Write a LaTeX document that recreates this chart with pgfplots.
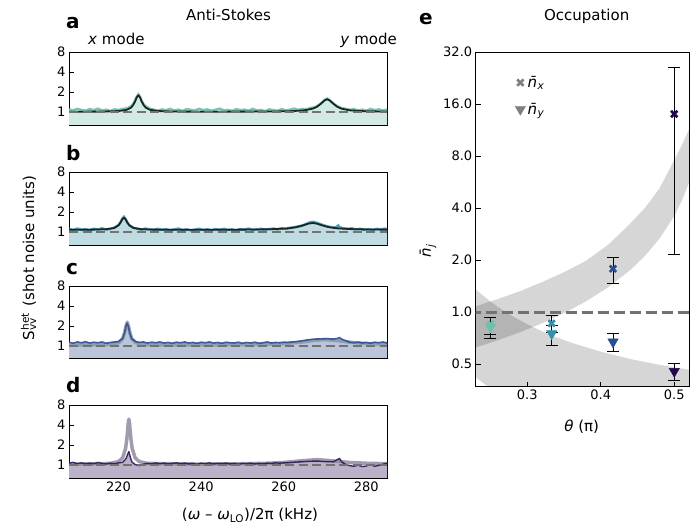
\documentclass[border=0pt]{standalone}
\usepackage{fontspec}
\setmainfont{DejaVu Sans}
\usepackage{pgfplots}
\usepackage{pgfplotstable}
\usepgfplotslibrary{fillbetween}
\pgfplotsset{compat=1.18}
\definecolor{lineA}{HTML}{5DB9A2}
\definecolor{fillA}{HTML}{D2EAE3}
\definecolor{lineB}{HTML}{2F8BA6}
\definecolor{fillB}{HTML}{C0DCE3}
\definecolor{lineC}{HTML}{2E4F92}
\definecolor{fillC}{HTML}{BAC5D9}
\definecolor{lineD}{HTML}{2A1656}
\definecolor{fillD}{HTML}{BBB2C9}
\definecolor{fitC}{HTML}{8A94AB}
\definecolor{fitD}{HTML}{918B9F}
\definecolor{fitAB}{HTML}{1A2626}
\definecolor{dashgray}{HTML}{727272}
\definecolor{pA}{HTML}{6DBFAE}
\definecolor{pB}{HTML}{3790A9}
\definecolor{pC}{HTML}{284F8C}
\definecolor{pD}{HTML}{1F0A4D}
\definecolor{leggray}{HTML}{7F7F7F}

\pgfplotstableread{
x y
208 1.10
209 1.06
210 1.12
211 1.08
212 1.05
213 1.11
214 1.07
215 1.13
216 1.06
217 1.09
218 1.04
219 1.10
220 1.08
221 1.12
222 1.14
223 1.22
223.5 1.32
224 1.50
224.4 1.72
224.8 1.85
225.2 1.70
225.6 1.48
226.1 1.30
226.6 1.22
227.6 1.12
228.5 1.09
229.5 1.05
230.5 1.10
231.5 1.07
232.5 1.12
233.5 1.06
234.5 1.09
235.5 1.04
236.5 1.11
237.5 1.08
238.5 1.06
239.5 1.12
240.5 1.07
241.5 1.10
242.5 1.05
243.5 1.09
244.5 1.13
245.5 1.06
246.5 1.08
247.5 1.04
248.5 1.11
249.5 1.07
250.5 1.09
251.5 1.05
252.5 1.12
253.5 1.06
254.5 1.08
255.5 1.03
256.5 1.10
257.5 1.07
258.5 1.05
259.5 1.11
260.5 1.06
261.5 1.09
262.5 1.13
263.5 1.08
264.5 1.12
265.5 1.10
266.5 1.16
267.5 1.18
268.5 1.28
269.3 1.40
270 1.55
270.6 1.60
271.3 1.47
272 1.35
273 1.22
274 1.15
275 1.12
276 1.08
277 1.11
278 1.06
279 1.09
280 1.05
281 1.12
282 1.07
283 1.10
284 1.06
285 1.09
}\dataA
\pgfplotstableread{
x y
208 1.012
216 1.018
220 1.037
222 1.083
223 1.166
223.5 1.263
224 1.446
224.4 1.661
224.8 1.790
225.2 1.661
225.6 1.446
226.1 1.263
226.6 1.166
227.6 1.083
229.6 1.037
233.6 1.018
240 1.014
250 1.016
258 1.022
262 1.034
265 1.063
267 1.125
268 1.198
269 1.335
269.8 1.488
270.5 1.560
271.2 1.488
272 1.335
273 1.198
274 1.125
276 1.063
279 1.034
283 1.022
285 1.019
}\fitA
\pgfplotstableread{
x y
208 1.12
209 1.08
210 1.13
211 1.09
212 1.11
213 1.07
214 1.12
215 1.10
216 1.14
217 1.09
218 1.12
219 1.17
220 1.28
220.5 1.42
220.9 1.60
221.3 1.70
221.7 1.58
222.1 1.40
222.6 1.27
223.6 1.16
224.6 1.12
225.5 1.09
226.5 1.13
227.5 1.10
228.5 1.08
229.5 1.12
230.5 1.09
231.5 1.11
232.5 1.07
233.5 1.10
234.5 1.13
235.5 1.08
236.5 1.10
237.5 1.06
238.5 1.09
239.5 1.12
240.5 1.08
241.5 1.10
242.5 1.07
243.5 1.11
244.5 1.09
245.5 1.12
246.5 1.08
247.5 1.10
248.5 1.06
249.5 1.11
250.5 1.09
251.5 1.13
252.5 1.08
253.5 1.10
254.5 1.12
255.5 1.09
256.5 1.11
257.5 1.13
258.5 1.10
259.5 1.14
260.5 1.12
261.5 1.16
262.5 1.18
263.5 1.22
264.5 1.26
265.5 1.33
266.3 1.40
267 1.43
267.8 1.39
268.7 1.33
269.5 1.28
270.5 1.22
271.5 1.19
272.5 1.17
273.2 1.26
273.6 1.18
274.5 1.14
275.5 1.12
276.5 1.14
277.5 1.10
278.5 1.12
279.5 1.09
280.5 1.11
281.5 1.08
282.5 1.12
283.5 1.10
284.5 1.13
285 1.09
}\dataB
\pgfplotstableread{
x y
208 1.083
214 1.089
217 1.104
219 1.156
220 1.265
220.5 1.399
220.9 1.556
221.3 1.650
221.7 1.556
222.1 1.399
222.6 1.265
223.6 1.156
225.6 1.104
228.6 1.089
235 1.083
245 1.085
252 1.091
257 1.104
261 1.138
263 1.184
264.5 1.251
266 1.341
267 1.370
268 1.341
269.5 1.251
271 1.184
273 1.138
277 1.104
282 1.091
285 1.089
}\fitB
\pgfplotstableread{
x y
208 1.14
209 1.10
210 1.15
211 1.12
212 1.16
213 1.11
214 1.14
215 1.12
216 1.15
217 1.10
218 1.13
219 1.15
220 1.17
221 1.30
221.5 1.62
221.8 1.98
222.1 2.20
222.4 1.95
222.7 1.58
223.2 1.28
224.2 1.16
225 1.13
226 1.15
227 1.11
228 1.14
229 1.12
230 1.15
231 1.11
232 1.13
233 1.10
234 1.14
235 1.12
236 1.15
237 1.11
238 1.13
239 1.10
240 1.14
241 1.12
242 1.15
243 1.11
244 1.13
245 1.10
246 1.14
247 1.12
248 1.11
249 1.14
250 1.10
251 1.13
252 1.11
253 1.14
254 1.10
255 1.12
256 1.15
257 1.11
258 1.13
259 1.12
260 1.14
261 1.13
262 1.15
263 1.16
264.5 1.20
266 1.24
267.5 1.27
269 1.28
270.5 1.29
272 1.27
273 1.30
273.5 1.34
274 1.27
275 1.20
276 1.14
277 1.12
278 1.14
279 1.11
280 1.13
281 1.10
282 1.14
283 1.12
284 1.15
285 1.11
}\dataC
\pgfplotstableread{
x y
208 1.030
218 1.055
220 1.120
221 1.290
221.5 1.620
221.8 2.000
222.1 2.280
222.4 2.000
222.7 1.620
223.2 1.290
224.2 1.120
226.2 1.055
232 1.035
250 1.048
256 1.064
260 1.088
264 1.140
267 1.206
270 1.250
273 1.206
276 1.140
280 1.088
285 1.060
}\fitC
\pgfplotstableread{
x y
208 1.07
209 1.10
210 1.05
211 1.08
212 1.04
213 1.07
214 1.05
215 1.09
216 1.06
217 1.04
218 1.07
219 1.05
220 1.08
221 1.10
221.8 1.25
222.2 1.45
222.5 1.60
222.8 1.35
223.2 1.12
224 1.02
225 0.98
226 1.03
227 1.06
228 1.04
229 1.08
230 1.05
231 1.07
232 1.04
233 1.06
234 1.08
235 1.05
236 1.07
237 1.04
238 1.06
239 1.03
240 1.07
241 1.05
242 1.08
243 1.04
244 1.06
245 1.05
246 1.07
247 1.04
248 1.06
249 1.03
250 1.06
251 1.05
252 1.07
253 1.04
254 1.06
255 1.05
256 1.07
257 1.06
258 1.08
259 1.07
260 1.08
262 1.10
264 1.12
266 1.14
268 1.15
270 1.13
272 1.12
273.5 1.26
274 1.12
275 1.02
276 0.98
277 0.96
278 1.00
279 0.95
280 0.97
281 1.02
282 0.96
283 0.99
284 1.03
285 1.06
}\dataD
\pgfplotstableread{
x y
208 1.030
218 1.060
220 1.130
221 1.290
221.7 1.780
222.0 2.450
222.2 3.350
222.35 4.300
222.5 4.900
222.65 4.300
222.8 3.350
223.0 2.450
223.3 1.780
224.0 1.290
225.0 1.130
227 1.060
240 1.035
250 1.048
256 1.066
260 1.095
264 1.155
268 1.210
272 1.155
276 1.095
280 1.066
285 1.050
}\fitD

\begin{document}
\begin{tikzpicture}[x=1pt,y=1pt]

% ===== a =====
\begin{axis}[scale only axis, width=318pt, height=73pt, anchor=south west, at={(69pt,401pt)},
    xmin=208, xmax=285, ymode=log, ymin=0.64, ymax=8,
    ytick={1,2,4,8}, yticklabels={1,2,4,8},
    xtick={220,240,260,280}, xticklabels={},
    tick align=inside, tick pos=left, major tick length=5pt,
    tick style={black, line width=0.7pt},
    axis line style={black, line width=0.8pt},
    ticklabel style={font=\fontsize{13}{15}\selectfont},
    minor tick num=0]
\addplot[name path=A, line width=2.4pt, opacity=0.8, color=lineA] table {\dataA};
\path[name path=Abot] (axis cs:208,0.6) -- (axis cs:285,0.6);
\addplot[fillA] fill between[of=A and Abot];
\addplot[fitAB, line width=1.8pt, line join=round] table {\fitA};
\addplot[dashgray, line width=2.6pt, dash pattern=on 9pt off 4.5pt] coordinates {(208,1) (285,1)};
\end{axis}

% ===== b =====
\begin{axis}[scale only axis, width=318pt, height=73pt, anchor=south west, at={(69pt,281pt)},
    xmin=208, xmax=285, ymode=log, ymin=0.64, ymax=8,
    ytick={1,2,4,8}, yticklabels={1,2,4,8},
    xtick={220,240,260,280}, xticklabels={},
    tick align=inside, tick pos=left, major tick length=5pt,
    tick style={black, line width=0.7pt},
    axis line style={black, line width=0.8pt},
    ticklabel style={font=\fontsize{13}{15}\selectfont},
    minor tick num=0]
\addplot[name path=B, line width=2.4pt, opacity=0.8, color=lineB] table {\dataB};
\path[name path=Bbot] (axis cs:208,0.6) -- (axis cs:285,0.6);
\addplot[fillB] fill between[of=B and Bbot];
\addplot[fitAB, line width=1.8pt, line join=round] table {\fitB};
\addplot[dashgray, line width=2.6pt, dash pattern=on 9pt off 4.5pt] coordinates {(208,1) (285,1)};
\end{axis}

% ===== c =====
\begin{axis}[scale only axis, width=318pt, height=72pt, anchor=south west, at={(69pt,168pt)},
    xmin=208, xmax=285, ymode=log, ymin=0.66, ymax=8,
    ytick={1,2,4,8}, yticklabels={1,2,4,8},
    xtick={220,240,260,280}, xticklabels={},
    tick align=inside, tick pos=left, major tick length=5pt,
    tick style={black, line width=0.7pt},
    axis line style={black, line width=0.8pt},
    ticklabel style={font=\fontsize{13}{15}\selectfont},
    minor tick num=0]
\addplot[name path=C, draw=none] table {\dataC};
\path[name path=Cbot] (axis cs:208,0.6) -- (axis cs:285,0.6);
\addplot[fillC] fill between[of=C and Cbot];
\addplot[fitC, line width=3.5pt, opacity=0.85, line join=round] table {\fitC};
\addplot[line width=1.6pt, color=lineC, opacity=0.9, line join=round] table {\dataC};
\addplot[dashgray, line width=2.6pt, dash pattern=on 9pt off 4.5pt] coordinates {(208,1) (285,1)};
\end{axis}

% ===== d =====
\begin{axis}[scale only axis, width=318pt, height=73pt, anchor=south west, at={(69pt,48pt)},
    xmin=208, xmax=285, ymode=log, ymin=0.64, ymax=8,
    ytick={1,2,4,8}, yticklabels={1,2,4,8},
    xtick={220,240,260,280}, xticklabels={220,240,260,280},
    tick align=inside, tick pos=left, major tick length=5pt,
    tick style={black, line width=0.7pt},
    axis line style={black, line width=0.8pt},
    ticklabel style={font=\fontsize{13}{15}\selectfont},
    minor tick num=0]
\addplot[name path=D, draw=none] table {\dataD};
\path[name path=Dbot] (axis cs:208,0.6) -- (axis cs:285,0.6);
\addplot[fillD] fill between[of=D and Dbot];
\addplot[fitD, line width=3.5pt, opacity=0.85, line join=round] table {\fitD};
\addplot[line width=1.4pt, color=lineD, opacity=0.9, line join=round] table {\dataD};
\addplot[dashgray, line width=2.6pt, dash pattern=on 9pt off 4.5pt] coordinates {(208,1) (285,1)};
\end{axis}

% ===== e =====
\begin{axis}[
  scale only axis, width=213.3pt, height=334.7pt, anchor=south west,
  at={(475.7pt,139.3pt)},
  xmin=0.23, xmax=0.52, ymode=log, ymin=0.37, ymax=32,
  ytick={0.5,1,2,4,8,16,32}, yticklabels={0.5,1.0,2.0,4.0,8.0,16.0,32.0},
  xtick={0.3,0.4,0.5}, xticklabels={0.3,0.4,0.5},
  tick align=inside, tick pos=left, major tick length=5pt,
  tick style={black, line width=0.7pt},
  axis line style={black, line width=0.8pt},
  ticklabel style={font=\fontsize{13}{15}\selectfont},
  minor tick num=0,
  legend style={draw=none, fill=none, at={(0.17,0.94)}, anchor=north west,
    font=\fontsize{15}{17}\selectfont, row sep=10pt},
  legend cell align=left,
]
\addlegendimage{only marks, mark=x, mark size=4.5pt, line width=2.6pt, leggray}
\addlegendentry{\textit{n̄}\textsubscript{\textit{x}}}
\addlegendimage{only marks, mark=triangle*, mark size=6pt, leggray, mark options={rotate=180}}
\addlegendentry{\textit{n̄}\textsubscript{\textit{y}}}
% bands
\addplot[draw=none, fill=black, fill opacity=0.16, forget plot] coordinates {
 (0.23,1.35) (0.25,1.15) (0.27,1.0) (0.30,0.85) (0.33,0.74) (0.36,0.665) (0.40,0.59) (0.44,0.535) (0.48,0.495) (0.52,0.464)
 (0.52,0.145) (0.48,0.155) (0.44,0.167) (0.40,0.184) (0.36,0.208) (0.33,0.231) (0.30,0.266) (0.27,0.31) (0.25,0.36) (0.23,0.42)};
\addplot[draw=none, fill=black, fill opacity=0.16, forget plot] coordinates {
 (0.23,1.08) (0.26,1.19) (0.29,1.32) (0.32,1.49) (0.35,1.70) (0.38,1.98) (0.41,2.45) (0.44,3.25) (0.46,4.0) (0.48,5.2) (0.50,7.6) (0.51,9.2) (0.52,11.4)
 (0.52,5.59) (0.51,4.386) (0.50,3.608) (0.48,2.664) (0.46,2.111) (0.44,1.748) (0.41,1.390) (0.38,1.154) (0.35,0.986) (0.32,0.861) (0.29,0.764) (0.26,0.687) (0.23,0.624)};
\addplot[dashgray, line width=3pt, dash pattern=on 11pt off 5pt, forget plot] coordinates {(0.2,1) (0.55,1)};
% error bars
\addplot[draw=none, mark=none, forget plot, error bars/.cd, y dir=both, y explicit,
  error bar style={black, line width=1pt}, error mark options={black, rotate=90, mark size=6pt, line width=1pt}]
  coordinates {
  (0.25,0.85) += (0,0.083) -= (0,0.11)
  (0.3333,0.86) += (0,0.095) -= (0,0.10)
  (0.4167,1.78) += (0,0.29) -= (0,0.32)
  (0.5,14.0) += (0,12.0) -= (0,11.86)
  (0.25,0.82) += (0,0.11) -= (0,0.12)
  (0.3333,0.75) += (0,0.09) -= (0,0.11)
  (0.4167,0.672) += (0,0.079) -= (0,0.079)
  (0.5,0.454) += (0,0.051) -= (0,0.051)
  };
% markers
\addplot[only marks, mark=x, mark size=4.5pt, line width=2.6pt, pA, forget plot] coordinates {(0.25,0.85)};
\addplot[only marks, mark=triangle*, mark size=6pt, pA, mark options={rotate=180}, forget plot] coordinates {(0.25,0.82)};
\addplot[only marks, mark=x, mark size=4.5pt, line width=2.6pt, pB, forget plot] coordinates {(0.3333,0.86)};
\addplot[only marks, mark=triangle*, mark size=6pt, pB, mark options={rotate=180}, forget plot] coordinates {(0.3333,0.75)};
\addplot[only marks, mark=x, mark size=4.5pt, line width=2.6pt, pC, forget plot] coordinates {(0.4167,1.78)};
\addplot[only marks, mark=triangle*, mark size=6pt, pC, mark options={rotate=180}, forget plot] coordinates {(0.4167,0.672)};
\addplot[only marks, mark=x, mark size=4.5pt, line width=2.6pt, pD, forget plot] coordinates {(0.5,14.0)};
\addplot[only marks, mark=triangle*, mark size=6pt, pD, mark options={rotate=180}, forget plot] coordinates {(0.5,0.454)};
\end{axis}

% ===== texts =====
\node[anchor=base west, font=\fontsize{20}{22}\selectfont\bfseries, inner sep=0pt] at (66,497) {a};
\node[anchor=base west, font=\fontsize{20}{22}\selectfont\bfseries, inner sep=0pt] at (66,365) {b};
\node[anchor=base west, font=\fontsize{20}{22}\selectfont\bfseries, inner sep=0pt] at (66,251) {c};
\node[anchor=base west, font=\fontsize{20}{22}\selectfont\bfseries, inner sep=0pt] at (66,133) {d};
\node[anchor=base west, font=\fontsize{20}{22}\selectfont\bfseries, inner sep=0pt] at (419,501) {e};
\node[anchor=base, font=\fontsize{15}{17}\selectfont, inner sep=0pt] at (228.5,505.3) {Anti-Stokes};
\node[anchor=base, font=\fontsize{15}{17}\selectfont, inner sep=0pt] at (586.7,505.3) {Occupation};
\node[anchor=base west, font=\fontsize{15}{17}\selectfont, inner sep=0pt] at (88,481.7) {\textit{x} mode};
\node[anchor=base east, font=\fontsize{15}{17}\selectfont, inner sep=0pt] at (397,481.7) {\textit{y} mode};
\node[rotate=90, font=\fontsize{15}{17}\selectfont, inner sep=0pt] at (28.5,268) {S\rlap{\textsuperscript{het}}\textsubscript{vv}\hspace{0.45em} (shot noise units)};
\node[font=\fontsize{15}{17}\selectfont, inner sep=0pt] at (250,11) {(\textit{ω} – \textit{ω}\textsubscript{LO})/2π (kHz)};
\node[font=\fontsize{15}{17}\selectfont, inner sep=0pt] at (581.7,99.3) {\textit{θ} (π)};
\node[rotate=90, font=\fontsize{15}{17}\selectfont, inner sep=0pt] at (428,275) {\textit{n̄}\textsubscript{\textit{j}}};
\pgfresetboundingbox
\path[use as bounding box] (0,0) rectangle (698,526);
\end{tikzpicture}
\end{document}
